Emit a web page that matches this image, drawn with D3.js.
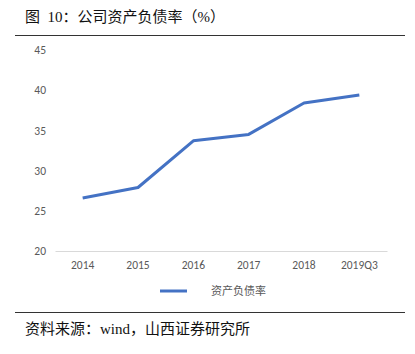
<!DOCTYPE html>
<html><head><meta charset="utf-8">
<script src="https://cdn.jsdelivr.net/npm/d3@7"></script>
<style>body{margin:0;background:#fff}</style>
</head><body>
<svg id="c" width="415" height="354"></svg>
<script>
const categories = ["2014","2015","2016","2017","2018","2019Q3"];
const debtRatio = [26.6, 27.9, 33.7, 34.5, 38.4, 39.4];
const yTicks = [20,25,30,35,40,45];
const seriesName = "资产负债率";
const titleText = "图\u00a0\u00a010：公司资产负债率（%）";
const sourceText = "资料来源：wind，山西证券研究所";

const svg = d3.select("#c");
const cjk = "'Liberation Serif','Noto Sans CJK SC',sans-serif";
const sans = "Calibri,'Carlito','Open Sans','Noto Sans CJK SC',sans-serif";

svg.append("text").attr("x",25).attr("y",22).attr("font-family",cjk).attr("font-size",15).attr("fill","#111").text(titleText);
svg.append("line").attr("x1",15).attr("x2",405).attr("y1",35.5).attr("y2",35.5).attr("stroke","#333").attr("stroke-width",1);
svg.append("line").attr("x1",15).attr("x2",405).attr("y1",312.5).attr("y2",312.5).attr("stroke","#333").attr("stroke-width",1);
svg.append("text").attr("x",25).attr("y",334).attr("font-family",cjk).attr("font-size",15).attr("fill","#111").text(sourceText);

const x = d3.scaleBand().domain(categories).range([55,387]);
const y = d3.scaleLinear().domain([20,45]).range([251,50]);

const yAxis = d3.axisLeft(y).tickValues(yTicks).tickSize(0).tickPadding(0);
const gy = svg.append("g").attr("transform","translate(46,0)").call(yAxis);
gy.select(".domain").remove();
gy.selectAll("text").attr("font-family",sans).attr("font-size",11.5).attr("fill","#595959");

const xAxis = d3.axisBottom(x).tickSize(0).tickPadding(10);
const gx = svg.append("g").attr("transform","translate(0,251)").call(xAxis);
gx.select(".domain").attr("stroke","#d9d9d9");
gx.selectAll("text").attr("font-family",sans).attr("font-size",11.5).attr("fill","#595959");

const line = d3.line().x((d,i)=>x(categories[i])+x.bandwidth()/2).y(d=>y(d));
svg.append("path").datum(debtRatio).attr("d",line).attr("fill","none").attr("stroke","#4472C4").attr("stroke-width",3).attr("stroke-linejoin","round");

const lg = svg.append("g").attr("transform","translate(160,291)");
lg.append("line").attr("x1",0).attr("x2",27).attr("y1",0).attr("y2",0).attr("stroke","#4472C4").attr("stroke-width",3);
lg.append("text").attr("x",51).attr("y",4).attr("font-family","'Noto Sans CJK SC',sans-serif").attr("font-size",11).attr("fill","#595959").text(seriesName);
</script>
</body></html>
